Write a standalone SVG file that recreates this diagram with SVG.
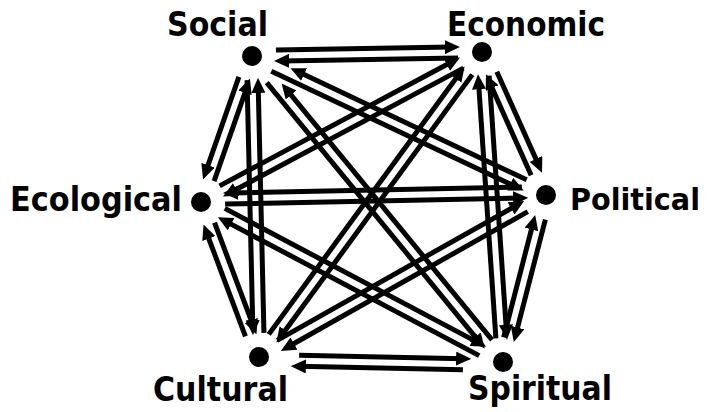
<svg xmlns="http://www.w3.org/2000/svg" width="707" height="412" viewBox="0 0 707 412">
<style>
.c line{stroke:#000;stroke-width:5;fill:none;marker-end:url(#ah)}
.dot{fill:#000}
.lbl{font-family:"DejaVu Sans","Verdana",sans-serif;font-weight:bold;font-size:33px;fill:#000}
</style>
<defs>
<marker id="ah" markerUnits="userSpaceOnUse" markerWidth="15" markerHeight="14" refX="7" refY="7" orient="auto" viewBox="0 0 15 14">
<path d="M0,0 L15,7 L0,14 z" fill="#000"/>
</marker>
</defs>
<rect width="707" height="412" fill="#fff"/>
<g id="connectors" class="c">
<line x1="275.90" y1="50.08" x2="451.91" y2="47.02"/>
<line x1="458.10" y1="57.92" x2="282.09" y2="60.98"/>
<line x1="271.35" y1="71.23" x2="516.53" y2="187.15"/>
<line x1="526.65" y1="179.77" x2="297.75" y2="71.55"/>
<line x1="266.77" y1="82.68" x2="479.72" y2="342.29"/>
<line x1="492.03" y1="339.96" x2="286.69" y2="89.62"/>
<line x1="247.06" y1="80.12" x2="252.80" y2="327.14"/>
<line x1="263.94" y1="332.88" x2="258.20" y2="85.86"/>
<line x1="238.89" y1="76.84" x2="205.70" y2="171.86"/>
<line x1="214.11" y1="181.16" x2="247.30" y2="86.14"/>
<line x1="496.82" y1="71.66" x2="538.77" y2="165.37"/>
<line x1="531.18" y1="175.34" x2="489.24" y2="81.63"/>
<line x1="489.11" y1="75.57" x2="506.46" y2="331.70"/>
<line x1="495.89" y1="338.43" x2="478.54" y2="82.30"/>
<line x1="472.28" y1="74.62" x2="281.15" y2="336.03"/>
<line x1="268.73" y1="334.38" x2="459.85" y2="72.97"/>
<line x1="463.42" y1="68.15" x2="230.06" y2="192.72"/>
<line x1="219.58" y1="185.85" x2="452.95" y2="61.28"/>
<line x1="545.34" y1="219.61" x2="515.81" y2="334.32"/>
<line x1="503.66" y1="337.39" x2="533.19" y2="222.68"/>
<line x1="527.80" y1="211.59" x2="287.83" y2="347.04"/>
<line x1="277.20" y1="340.41" x2="517.17" y2="204.96"/>
<line x1="225.11" y1="204.01" x2="520.12" y2="198.03"/>
<line x1="521.89" y1="186.99" x2="230.88" y2="192.89"/>
<line x1="299.10" y1="355.32" x2="463.12" y2="358.68"/>
<line x1="462.90" y1="369.68" x2="298.88" y2="366.32"/>
<line x1="224.78" y1="208.38" x2="479.07" y2="343.10"/>
<line x1="479.22" y1="355.62" x2="224.93" y2="220.91"/>
<line x1="214.56" y1="222.55" x2="253.64" y2="326.98"/>
<line x1="245.44" y1="336.45" x2="206.36" y2="232.02"/>
</g>
<g id="social"><circle class="dot" cx="252" cy="56" r="10"/><text class="lbl" x="167" y="36" textLength="101" lengthAdjust="spacingAndGlyphs">Social</text></g>
<g id="economic"><circle class="dot" cx="482" cy="52" r="10"/><text class="lbl" x="447" y="36" textLength="158" lengthAdjust="spacingAndGlyphs">Economic</text></g>
<g id="political"><circle class="dot" cx="546" cy="195" r="10"/><text class="lbl" x="570" y="210" style="font-size:29.5px" textLength="130" lengthAdjust="spacingAndGlyphs">Political</text></g>
<g id="spiritual"><circle class="dot" cx="503" cy="362" r="10"/><text class="lbl" x="468" y="400" textLength="144" lengthAdjust="spacingAndGlyphs">Spiritual</text></g>
<g id="cultural"><circle class="dot" cx="259" cy="357" r="10"/><text class="lbl" x="153" y="401" textLength="135" lengthAdjust="spacingAndGlyphs">Cultural</text></g>
<g id="ecological"><circle class="dot" cx="201" cy="202" r="10"/><text class="lbl" x="10" y="211" textLength="172" lengthAdjust="spacingAndGlyphs">Ecological</text></g>
</svg>
